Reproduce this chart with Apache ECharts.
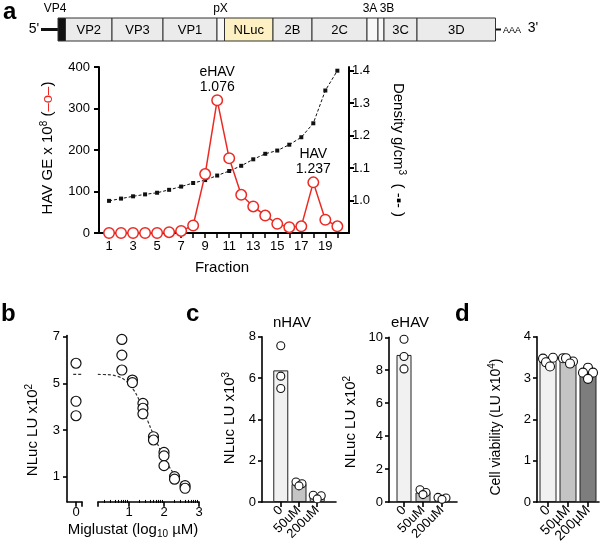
<!DOCTYPE html>
<html><head><meta charset="utf-8">
<script src="https://cdn.jsdelivr.net/npm/echarts@6/dist/echarts.min.js"></script>
<style>html,body{margin:0;padding:0;background:#fff}#c{width:600px;height:550px}</style>
</head><body><div id="c"></div>
<script>
// ---------------- DATA ----------------
// Panel a
const fractions = [1,2,3,4,5,6,7,8,9,10,11,12,13,14,15,16,17,18,19,20];
const havGE = [0,0,0,0,0,2,5,18,142,320,180,92,64,42,22,14,16,122,32,16];
const densityValues = [0.999,1.006,1.013,1.019,1.024,1.033,1.043,1.054,1.063,1.077,1.091,1.107,1.127,1.144,1.154,1.172,1.195,1.238,1.339,1.400];
const fractionTickLabels = [1,3,5,7,9,11,13,15,17,19];
const havTicks = [0,100,200,300,400];
const densityTicks = [1.0,1.1,1.2,1.3,1.4];
const peakNames = ['eHAV','HAV'];
const peakFractions = [10,18];
const peakDensities = ['1.076','1.237'];
// Panel b
const zeroDoseNLuc = [5.86,4.23,3.61];
const logDose = [0.796,1.097,1.398,1.699,2.0,2.301,2.602];
const doseNLuc = [[6.88,6.21,5.57],[5.14,5.03],[4.14,3.93,3.69],[2.71,2.57],[2.04,1.89,1.47],[1.0,0.89],[0.61,0.5]];
const fitLogDose = [0.11,0.4,0.6,0.8,1.0,1.2,1.4,1.6,1.8,2.0,2.2,2.4,2.6,2.68];
const fitNLuc = [5.38,5.37,5.33,5.22,4.98,4.55,3.9,3.15,2.45,1.82,1.3,0.92,0.6,0.5];
const zeroDoseFit = 5.38;
const bYTicks = [1,3,5,7];
const bXTicks = [1,2,3];
const bMinorDoses = [2,3,4,5,6,7,8,9,20,30,40,50,60,70,80,90,200,300,400,500,600,700,800,900];
// Panel c
const treatmentsC = ['0','50uM','200uM'];
const nHAVBars = [6.37,0.87,0.25];
const nHAVReps = [[7.56,6.09,5.49],[0.97,0.88,0.78],[0.33,0.30,0.15]];
const eHAVBars = [8.93,0.58,0.23];
const eHAVReps = [[9.88,8.83,8.08],[0.74,0.58,0.45],[0.28,0.24,0.16]];
// Panel d
const treatmentsD = ['0','50µM','200µM'];
const viabilityBars = [3.41,3.43,3.12];
const viabilityReps = [[3.47,3.49,3.38,3.28],[3.48,3.40,3.48,3.35],[3.25,3.13,3.13,2.98]];

// ---------------- STYLE / LAYOUT ----------------
const FONT = '"Liberation Sans", Arial, Helvetica, sans-serif';
const NARROW = '"Liberation Sans Narrow", "Liberation Sans", Arial, sans-serif';
const RED = '#ec2a24';
const barFillC = ['#f1f1f1','#c4c4c4','#c4c4c4'];
const barFillD = ['#f1f1f1','#c4c4c4','#7d7d7d'];
const jitterC = [[0,0,0],[-3,3,0],[-4,4,0]];
const jitterD = [[-5,5,-2,2],[-5,5,-2,2],[0,-5,5,0]];

function axisBase(lw){
  return {
    axisLine:{show:true,onZero:false,lineStyle:{color:'#000',width:lw}},
    axisTick:{show:true,length:5,lineStyle:{color:'#000',width:lw}},
    splitLine:{show:false},
    axisLabel:{color:'#000',fontSize:13,fontFamily:FONT}
  };
}
function merge(a,b){
  const r = JSON.parse(JSON.stringify(a));
  for (const k in b){
    if (b[k] && typeof b[k]==='object' && !Array.isArray(b[k]) && r[k] && typeof r[k]==='object') r[k] = Object.assign({}, r[k], b[k]);
    else r[k] = b[k];
  }
  return r;
}
function catLabel(names, size){
  return {color:'#000',fontSize:size,fontFamily:FONT,margin:6,rotate:45,hideOverlap:false,
    customValues:[1,2,3],formatter:v=>names[Math.round(v)-1]};
}

const xAxes = [
  merge(axisBase(2), {type:'value', gridIndex:0, min:0.165, max:20.97,
    axisTick:{show:true,length:5,customValues:fractions,lineStyle:{color:'#000',width:1.5}},
    axisLabel:{color:'#000',fontSize:13,fontFamily:FONT,margin:7,customValues:fractionTickLabels,formatter:v=>String(v)}}),
  merge(axisBase(1.6), {type:'value', gridIndex:1, min:-0.257, max:0.171,
    axisTick:{show:true,length:5,customValues:[0,0.17],lineStyle:{color:'#000',width:1.6}},
    axisLabel:{color:'#000',fontSize:13,fontFamily:FONT,margin:4,customValues:[0],formatter:v=>String(Math.round(v))}}),
  merge(axisBase(1.6), {type:'value', gridIndex:2, min:0.114, max:3.0,
    axisTick:{show:true,length:5,customValues:[0.114].concat(bXTicks),lineStyle:{color:'#000',width:1.6}},
    axisLabel:{color:'#000',fontSize:13,fontFamily:FONT,margin:4,customValues:bXTicks,formatter:v=>String(Math.round(v))}}),
  {type:'value', gridIndex:2, min:0.114, max:3.0, position:'bottom', offset:0,
    axisLine:{show:false}, splitLine:{show:false}, axisLabel:{show:false},
    axisTick:{show:true,length:3,customValues:bMinorDoses.map(d=>Math.log10(d)),lineStyle:{color:'#000',width:1}}},
  merge(axisBase(1.6), {type:'value', gridIndex:3, min:-0.03, max:4.03,
    axisTick:{show:true,length:5,customValues:[1,2,3],lineStyle:{color:'#000',width:1.6}},
    axisLabel:catLabel(treatmentsC,13)}),
  merge(axisBase(1.6), {type:'value', gridIndex:4, min:0.21, max:3.79,
    axisTick:{show:true,length:5,customValues:[1,2,3],lineStyle:{color:'#000',width:1.6}},
    axisLabel:catLabel(treatmentsC,13)}),
  merge(axisBase(1.6), {type:'value', gridIndex:5, min:0.45, max:3.55,
    axisTick:{show:true,length:5,customValues:[1,2,3],lineStyle:{color:'#000',width:1.6}},
    axisLabel:catLabel(treatmentsD,14)})
];

const yAxes = [
  merge(axisBase(2), {type:'value', gridIndex:0, position:'left', min:0, max:400,
    axisTick:{show:true,length:5,customValues:havTicks,lineStyle:{color:'#000',width:2}},
    axisLabel:{color:'#000',fontSize:13,fontFamily:FONT,margin:9,customValues:havTicks}}),
  merge(axisBase(2), {type:'value', gridIndex:0, position:'right', min:0.9, max:1.4114,
    axisTick:{show:true,length:5,customValues:densityTicks,lineStyle:{color:'#000',width:2}},
    axisLabel:{color:'#000',fontSize:13,fontFamily:FONT,margin:3,customValues:densityTicks,formatter:v=>v.toFixed(1)}}),
  merge(axisBase(1.6), {type:'value', gridIndex:1, position:'left', min:-0.08, max:7.05,
    axisTick:{show:true,length:4,customValues:bYTicks,lineStyle:{color:'#000',width:1.6}},
    axisLabel:{color:'#000',fontSize:13,fontFamily:FONT,margin:7,customValues:bYTicks}}),
  {type:'value', gridIndex:2, min:-0.08, max:7.05, show:false},
  merge(axisBase(1.6), {type:'value', gridIndex:3, min:0, max:8, interval:2,
    axisTick:{show:true,length:4,lineStyle:{color:'#000',width:1.6}},
    axisLabel:{color:'#000',fontSize:13,fontFamily:FONT,margin:6}}),
  merge(axisBase(1.6), {type:'value', gridIndex:4, min:0, max:10, interval:2,
    axisTick:{show:true,length:4,lineStyle:{color:'#000',width:1.6}},
    axisLabel:{color:'#000',fontSize:13,fontFamily:FONT,margin:6}}),
  merge(axisBase(1.6), {type:'value', gridIndex:5, min:0, max:4, interval:1,
    axisTick:{show:true,length:4,lineStyle:{color:'#000',width:1.6}},
    axisLabel:{color:'#000',fontSize:13,fontFamily:FONT,margin:6}})
];

function barSeries(xi, yi, vals, fills, width){
  return {type:'bar', xAxisIndex:xi, yAxisIndex:yi, barWidth:width, silent:true,
    data: vals.map((v,i)=>({value:[i+1,v], itemStyle:{color:fills[i], borderColor:'#222', borderWidth:1}}))};
}
function repSeries(xi, yi, reps, jit, size){
  const data = [];
  reps.forEach((arr,i)=>arr.forEach((v,j)=>data.push({value:[i+1,v], symbolOffset:[jit[i][j]||0,0]})));
  return {type:'scatter', xAxisIndex:xi, yAxisIndex:yi, symbol:'circle', symbolSize:size, z:5,
    itemStyle:{color:'#fff', borderColor:'#111', borderWidth:1.1, opacity:1}, data};
}

const bScatter = [];
logDose.forEach((x,i)=>doseNLuc[i].forEach(v=>bScatter.push([x,v])));

const series = [
  {type:'line', xAxisIndex:0, yAxisIndex:1, data:fractions.map((f,i)=>[f,densityValues[i]]),
    symbol:'rect', symbolSize:4, itemStyle:{color:'#111'}, lineStyle:{color:'#111',width:1,type:[3,2]}, z:2},
  {type:'line', xAxisIndex:0, yAxisIndex:0, data:fractions.map((f,i)=>[f,havGE[i]]),
    symbol:'circle', symbolSize:10.5, showAllSymbol:true,
    itemStyle:{color:'#fff', borderColor:RED, borderWidth:1.5}, lineStyle:{color:RED,width:1.5}, z:3,
    markPoint:{symbol:'circle', symbolSize:1, itemStyle:{color:'rgba(0,0,0,0)'},
      label:{show:true, position:'top', distance:5.5, color:'#000', fontSize:14, lineHeight:15, fontFamily:FONT, formatter:p=>p.name},
      data: peakNames.map((n,i)=>({name:n+'\n'+peakDensities[i], coord:[peakFractions[i], havGE[peakFractions[i]-1]]}))}},
  {type:'line', xAxisIndex:1, yAxisIndex:2, data:[[-0.08,zeroDoseFit],[0.17,zeroDoseFit]], symbol:'none',
    lineStyle:{color:'#333',width:1.2,type:[3,2]}},
  {type:'scatter', xAxisIndex:1, yAxisIndex:2, data:zeroDoseNLuc.map(v=>[0,v]), symbolSize:10,
    itemStyle:{color:'#fff',borderColor:'#111',borderWidth:1.2,opacity:1}},
  {type:'line', xAxisIndex:2, yAxisIndex:3, data:fitLogDose.map((x,i)=>[x,fitNLuc[i]]), symbol:'none', smooth:0.3,
    lineStyle:{color:'#333',width:1.2,type:[3,2]}},
  {type:'scatter', xAxisIndex:2, yAxisIndex:3, data:bScatter, symbolSize:10, z:5,
    itemStyle:{color:'#fff',borderColor:'#111',borderWidth:1.2,opacity:1}},
  barSeries(4,4,nHAVBars,barFillC,15), repSeries(4,4,nHAVReps,jitterC,8),
  barSeries(5,5,eHAVBars,barFillC,15), repSeries(5,5,eHAVReps,jitterC,8),
  barSeries(6,6,viabilityBars,barFillD,17), repSeries(6,6,viabilityReps,jitterD,9)
];

// ---------- graphic (labels, genome map) ----------
function txt(text, x, y, opts){
  opts = opts || {};
  return {type:'text', x:x, y:y, rotation:opts.rot||0, z:100,
    style:{text:text, fill:opts.fill||'#000', font:(opts.weight||'normal')+' '+(opts.size||14)+'px '+(opts.family||FONT),
      textAlign:opts.align||'center', textVerticalAlign:opts.valign||'middle', rich:opts.rich}};
}
function richSet(size){
  return {
    n:{fontSize:size, fontFamily:FONT, fill:'#000', color:'#000'},
    sup:{fontSize:Math.round(size*0.68), fontFamily:FONT, fill:'#000', color:'#000', padding:[0,0,Math.round(size*0.55),0]},
    sub:{fontSize:Math.round(size*0.68), fontFamily:FONT, fill:'#000', color:'#000', padding:[Math.round(size*0.5),0,0,0]},
    r:{fontSize:size, fontFamily:FONT, fill:RED, color:RED}
  };
}
const graphics = [];
graphics.push(txt('a', 3, 12, {size:24, weight:'bold', align:'left'}));
graphics.push(txt('b', 1, 314, {size:24, weight:'bold', align:'left'}));
graphics.push(txt('c', 186, 314, {size:24, weight:'bold', align:'left'}));
graphics.push(txt('d', 455, 314, {size:24, weight:'bold', align:'left'}));

// genome map
const gY0 = 18, gY1 = 41, gMid = (gY0+gY1)/2;
const segs = [
  {x0:58, x1:65.5, label:'', fill:'#111'},
  {x0:65.5, x1:112, label:'VP2', fill:'#ebebeb'},
  {x0:112, x1:163, label:'VP3', fill:'#ebebeb'},
  {x0:163, x1:217, label:'VP1', fill:'#ebebeb'},
  {x0:217, x1:224.5, label:'', fill:'#f8f8f8'},
  {x0:224.5, x1:273, label:'NLuc', fill:'#fdf1c3'},
  {x0:273, x1:312, label:'2B', fill:'#ebebeb'},
  {x0:312, x1:367, label:'2C', fill:'#ebebeb'},
  {x0:367, x1:378, label:'', fill:'#f8f8f8'},
  {x0:378, x1:384, label:'', fill:'#f8f8f8'},
  {x0:384, x1:417, label:'3C', fill:'#ebebeb'},
  {x0:417, x1:495.5, label:'3D', fill:'#ebebeb'}
];
graphics.push({type:'line', shape:{x1:41, y1:gMid, x2:58, y2:gMid}, style:{stroke:'#111', lineWidth:3}, z:90});
graphics.push({type:'line', shape:{x1:495.5, y1:gMid, x2:501, y2:gMid}, style:{stroke:'#111', lineWidth:2}, z:90});
segs.forEach(s=>{
  graphics.push({type:'rect', shape:{x:s.x0, y:gY0, width:s.x1-s.x0, height:gY1-gY0}, style:{fill:s.fill, stroke:'#333', lineWidth:1}, z:91});
  if (s.label) graphics.push(txt(s.label, (s.x0+s.x1)/2, gMid+0.5, {size:13, family:NARROW}));
});
graphics.push(txt('5\'', 34, gMid, {size:14}));
graphics.push(txt('AAA', 512, gMid+1, {size:9, family:NARROW}));
graphics.push(txt('3\'', 533, gMid-1, {size:14}));
graphics.push(txt('VP4', 55, 9, {size:12, family:NARROW}));
graphics.push(txt('pX', 220.5, 9, {size:12, family:NARROW}));
graphics.push(txt('3A', 370, 9, {size:12, family:NARROW}));
graphics.push(txt('3B', 387, 9, {size:12, family:NARROW}));

// axis titles
graphics.push(txt('{n|HAV GE x 10}{sup|8}{n| (}{r|–o–}{n|)}', 48, 148, {size:15, rot:Math.PI/2, rich:richSet(15)}));
graphics.push(txt('{n|Density g/cm}{sup|3}{n|  ( -▪- )}', 398, 150, {size:15, rot:-Math.PI/2, rich:richSet(15)}));
graphics.push(txt('Fraction', 222, 268, {size:15}));
graphics.push(txt('{n|NLuc LU x10}{sup|2}', 33, 430, {size:15, rot:Math.PI/2, rich:richSet(15)}));
graphics.push(txt('{n|Miglustat (log}{sub|10}{n| µM)}', 133, 530, {size:15, rich:richSet(15)}));
graphics.push(txt('nHAV', 292, 323, {size:15}));
graphics.push(txt('eHAV', 410, 323, {size:15}));
graphics.push(txt('{n|NLuc LU x10}{sup|3}', 230, 418, {size:15, rot:Math.PI/2, rich:richSet(15)}));
graphics.push(txt('{n|NLuc LU x10}{sup|2}', 351, 422, {size:15, rot:Math.PI/2, rich:richSet(15)}));
graphics.push(txt('{n|Cell viability (LU x10}{sup|4}{n|)}', 496, 427, {size:14, rot:Math.PI/2, rich:richSet(14)}));

const option = {
  animation:false,
  backgroundColor:'#fff',
  textStyle:{fontFamily:FONT},
  grid:[
    {left:99, top:67, width:250, height:166},
    {left:67, top:335.5, width:15, height:166.3},
    {left:98, top:335.5, width:101, height:166.3},
    {left:262, top:336.7, width:74, height:165.3},
    {left:389, top:337.3, width:68, height:164.7},
    {left:537, top:336.7, width:62, height:165.3}
  ],
  xAxis:xAxes,
  yAxis:yAxes,
  series:series,
  graphic:graphics
};
const chart = echarts.init(document.getElementById('c'), null, {renderer:'canvas', width:600, height:550});
chart.setOption(option);
</script></body></html>
